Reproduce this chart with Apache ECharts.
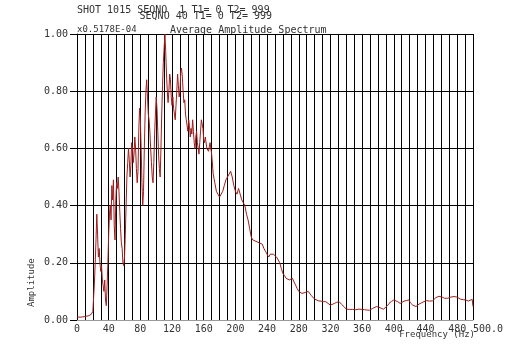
<!DOCTYPE html>
<html>
<head>
<meta charset="utf-8">
<script src="https://cdn.jsdelivr.net/npm/echarts@6/dist/echarts.min.js"></script>
<style>html,body{margin:0;padding:0;background:#fff}#c{width:512px;height:352px}</style>
</head>
<body>
<div id="c"></div>
<script>
var freqs = [0,5,10,15,18,20,21,22,23,24,25,26,27,28,29,30,31,32,33,34,35,36,37,38,39,40,41,42,43,44,45,46,47,48,49,50,51,52,53,54,55,56,57,58,59,60,61,62,63,64,65,66,67,68,69,70,71,72,73,74,75,76,77,78,79,80,81,82,83,84,85,86,87,88,89,90,91,92,93,94,95,96,97,98,99,100,101,102,103,104,105,106,107,108,109,110,111,112,113,114,115,116,117,118,119,120,121,122,123,124,125,126,127,128,129,130,131,132,133,134,135,136,137,138,139,140,141,142,143,144,145,146,147,148,149,150,151,152,153,154,155,156,157,158,159,160,161,162,164,166,168,170,172,174,176,178,180,182,184,186,188,190,192,194,196,198,200,202,204,206,208,210,212,214,216,218,220,222,224,226,228,230,232,234,236,238,240,242,244,246,248,250,252,254,256,258,260,262,264,266,268,270,272,274,276,278,280,282,284,286,288,290,292,294,296,298,300,302,305,308,311,314,317,320,322,325,328,331,334,337,340,344,348,352,356,360,363,366,369,371,373,375,378,381,384,387,389,392,394,397,400,402,405,408,410,413,416,419,421,424,426,428,430,432,435,438,441,443,445,447,449,451,453,455,457,459,461,464,468,472,476,480,484,488,491,494,496,499,500];
var amps = [0.01,0.01,0.012,0.015,0.02,0.03,0.08,0.13,0.2,0.28,0.37,0.3,0.22,0.25,0.2,0.17,0.19,0.14,0.12,0.1,0.14,0.07,0.05,0.12,0.2,0.3,0.37,0.4,0.35,0.47,0.42,0.49,0.33,0.28,0.42,0.48,0.46,0.5,0.45,0.38,0.32,0.27,0.25,0.2,0.19,0.22,0.3,0.4,0.5,0.55,0.6,0.56,0.5,0.54,0.62,0.6,0.55,0.58,0.64,0.6,0.53,0.48,0.52,0.66,0.74,0.7,0.6,0.48,0.4,0.45,0.6,0.72,0.8,0.84,0.78,0.72,0.7,0.66,0.6,0.55,0.5,0.48,0.55,0.65,0.72,0.78,0.74,0.66,0.58,0.53,0.5,0.6,0.72,0.82,0.9,0.95,1.0,0.94,0.86,0.8,0.76,0.8,0.86,0.84,0.78,0.75,0.78,0.74,0.72,0.7,0.75,0.8,0.86,0.82,0.78,0.8,0.87,0.88,0.85,0.8,0.76,0.77,0.72,0.7,0.68,0.66,0.7,0.68,0.64,0.67,0.65,0.7,0.66,0.62,0.6,0.64,0.66,0.62,0.6,0.58,0.62,0.66,0.7,0.7,0.67,0.63,0.62,0.64,0.6,0.59,0.62,0.58,0.51,0.48,0.45,0.44,0.43,0.44,0.45,0.47,0.49,0.5,0.51,0.52,0.5,0.47,0.45,0.44,0.46,0.44,0.42,0.41,0.4,0.37,0.35,0.32,0.29,0.28,0.28,0.275,0.275,0.27,0.27,0.265,0.25,0.24,0.23,0.22,0.23,0.235,0.23,0.227,0.22,0.21,0.2,0.18,0.163,0.155,0.146,0.142,0.14,0.143,0.146,0.133,0.122,0.11,0.1,0.095,0.093,0.094,0.096,0.098,0.1,0.095,0.085,0.08,0.073,0.069,0.067,0.066,0.064,0.064,0.058,0.052,0.055,0.058,0.062,0.064,0.055,0.047,0.038,0.037,0.037,0.036,0.038,0.037,0.036,0.035,0.034,0.033,0.04,0.044,0.047,0.045,0.041,0.038,0.037,0.05,0.058,0.065,0.07,0.067,0.064,0.058,0.06,0.066,0.068,0.07,0.06,0.052,0.05,0.047,0.052,0.056,0.06,0.064,0.068,0.07,0.066,0.064,0.067,0.07,0.078,0.084,0.083,0.084,0.08,0.076,0.076,0.08,0.082,0.08,0.073,0.071,0.07,0.066,0.064,0.072,0.047];
var xTickLabels = ['0','40','80','120','160','200','240','280','320','360','400','440','480','500.0'];
var yTickLabels = ['0.00','0.20','0.40','0.60','0.80','1.00'];
var headerLine1 = 'SHOT 1015 SEQNO  1 T1= 0 T2= 999';
var headerLine2 = 'SEQNO 40 T1= 0 T2= 999';
var scaleText = 'x0.5178E-04';
var titleText = 'Average Amplitude Spectrum';
var xName = 'Frequency (Hz)';
var yName = 'Amplitude';

var data = freqs.map(function (f, i) { return [f, amps[i]]; });
var FONT = 'DejaVu Sans Mono';
var TXT = '#333';
var chart = echarts.init(document.getElementById('c'), null, {renderer: 'canvas'});
chart.setOption({
  animation: false,
  backgroundColor: '#fff',
  grid: {left: 77, right: 39, top: 34, bottom: 32},
  xAxis: {
    type: 'value', min: 0, max: 500, interval: 10,
    axisLine: {show: true, lineStyle: {color: '#999', width: 1}},
    axisTick: {show: false},
    splitLine: {show: true, lineStyle: {color: '#000', width: 1}},
    axisLabel: {
      margin: 4, fontFamily: FONT, fontSize: 10, color: TXT,
      formatter: function (v) {
        if (v === 500) return '{r|' + xTickLabels[13] + '}';
        if (v % 40 === 0) return xTickLabels[v / 40];
        return '';
      },
      rich: {r: {fontFamily: FONT, fontSize: 10, color: TXT, padding: [0, 0, 0, 30]}}
    }
  },
  yAxis: {
    type: 'value', min: 0, max: 1, interval: 0.2,
    axisLine: {show: true, lineStyle: {color: '#000', width: 1}},
    axisTick: {show: true, length: 7, lineStyle: {color: '#000'}},
    splitLine: {show: true, lineStyle: {color: '#000', width: 1}},
    axisLabel: {
      margin: 9, fontFamily: FONT, fontSize: 10, color: TXT,
      formatter: function (v) { return yTickLabels[Math.round(v * 5)]; }
    }
  },
  series: [{
    type: 'line', data: data, showSymbol: false, symbol: 'none',
    lineStyle: {color: '#a01c1c', width: 1}, clip: true
  }],
  graphic: [
    {type: 'text', left: 77, top: 5, style: {text: headerLine1, font: '10px "DejaVu Sans Mono"', fill: TXT}},
    {type: 'text', right: 240, top: 11, style: {text: headerLine2, font: '10px "DejaVu Sans Mono"', fill: TXT}},
    {type: 'text', left: 77, top: 25, style: {text: scaleText, font: '9px "DejaVu Sans Mono"', fill: TXT}},
    {type: 'text', left: 170, top: 25, style: {text: titleText, font: '10px "DejaVu Sans Mono"', fill: TXT}},
    {type: 'text', right: 37, top: 330, style: {text: xName, font: '9px "DejaVu Sans Mono"', fill: TXT}},
    {type: 'text', x: 27, y: 307, rotation: Math.PI / 2, style: {text: yName, font: '9px "DejaVu Sans Mono"', fill: TXT}}
  ]
});
</script>
</body>
</html>
